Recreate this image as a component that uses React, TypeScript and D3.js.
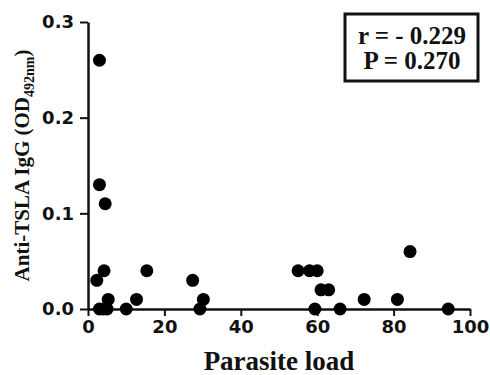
import * as d3 from "d3";
import { useEffect, useRef } from "react";

// Parasite load (x) vs anti-TSLA IgG OD (y)
const parasiteLoad = [
  3, 3, 4.5, 4.2, 2.3, 5.3, 3, 4, 5, 10, 12.7, 15.4, 27.4, 30.2, 29.3, 55, 58,
  60, 61, 63, 59.4, 66, 72.3, 81, 84.3, 94.3,
];
const igg = [
  0.26, 0.13, 0.11, 0.04, 0.03, 0.01, 0, 0, 0, 0, 0.01, 0.04, 0.03, 0.01, 0,
  0.04, 0.04, 0.04, 0.02, 0.02, 0, 0, 0.01, 0.01, 0.06, 0,
];
const xTicks = [0, 20, 40, 60, 80, 100];
const yTicks = [0, 0.1, 0.2, 0.3];
const statLines = ["r = - 0.229", "P = 0.270"];

const INK = "#111";
const SANS = "'DejaVu Sans', Arial, sans-serif";
const SERIF = "'Liberation Serif', 'Times New Roman', serif";

function Scatter({ width = 490, height = 375 }) {
  const svgRef = useRef<SVGSVGElement>(null);

  useEffect(() => {
    if (!svgRef.current) return;
    const svg = d3.select(svgRef.current);
    svg.selectAll("*").remove();

    const m = { top: 22, right: 20, bottom: 66, left: 88 };
    const x = d3.scaleLinear().domain([0, 100]).range([m.left, width - m.right]);
    const y = d3.scaleLinear().domain([0, 0.3]).range([height - m.bottom, m.top]);

    const data = parasiteLoad.map((v, i) => ({ x: v, y: igg[i] }));

    // x axis
    const gx = svg
      .append("g")
      .attr("transform", `translate(0,${y(0)})`)
      .call(d3.axisBottom(x).tickValues(xTicks).tickSize(7).tickPadding(4).tickSizeOuter(0));
    gx.select("path.domain").attr("stroke", INK).attr("stroke-width", 2.5);
    gx.selectAll("line").attr("stroke", INK).attr("stroke-width", 2);
    gx.selectAll("text")
      .attr("font-family", SANS)
      .attr("font-weight", "bold")
      .attr("font-size", 18)
      .attr("fill", INK);

    // y axis
    const gy = svg
      .append("g")
      .attr("transform", `translate(${x(0)},0)`)
      .call(
        d3
          .axisLeft(y)
          .tickValues(yTicks)
          .tickFormat(d3.format(".1f"))
          .tickSize(8)
          .tickPadding(6)
          .tickSizeOuter(0),
      );
    gy.select("path.domain").attr("stroke", INK).attr("stroke-width", 2.5);
    gy.selectAll("line").attr("stroke", INK).attr("stroke-width", 2);
    gy.selectAll("text")
      .attr("font-family", SANS)
      .attr("font-weight", "bold")
      .attr("font-size", 18)
      .attr("fill", INK);

    // points
    svg
      .append("g")
      .selectAll("circle")
      .data(data)
      .enter()
      .append("circle")
      .attr("cx", (d) => x(d.x))
      .attr("cy", (d) => y(d.y))
      .attr("r", 6.5)
      .attr("fill", "#000");

    // axis titles
    svg
      .append("text")
      .attr("x", 279)
      .attr("y", 370)
      .attr("text-anchor", "middle")
      .attr("font-family", SERIF)
      .attr("font-weight", "bold")
      .attr("font-size", 27)
      .attr("fill", INK)
      .text("Parasite load");

    const yl = svg
      .append("text")
      .attr("transform", `translate(29,${(y(0) + y(0.3)) / 2}) rotate(-90)`)
      .attr("text-anchor", "middle")
      .attr("font-family", SERIF)
      .attr("font-weight", "bold")
      .attr("font-size", 21)
      .attr("fill", INK);
    yl.append("tspan").text("Anti-TSLA IgG (OD");
    yl.append("tspan").attr("font-size", 14).attr("dy", 5).text("492nm");
    yl.append("tspan").attr("dy", -5).text(")");

    // stats box
    svg
      .append("rect")
      .attr("x", 345)
      .attr("y", 14)
      .attr("width", 133)
      .attr("height", 67)
      .attr("fill", "#fff")
      .attr("stroke", INK)
      .attr("stroke-width", 3);
    svg
      .append("g")
      .selectAll("text")
      .data(statLines)
      .enter()
      .append("text")
      .attr("x", 412)
      .attr("y", (_, i) => 44 + i * 25)
      .attr("text-anchor", "middle")
      .attr("font-family", SERIF)
      .attr("font-weight", "bold")
      .attr("font-size", 25)
      .attr("fill", INK)
      .text((d) => d);
  }, [width, height]);

  return (
    <svg
      ref={svgRef}
      width={width}
      height={height}
      style={{ position: "absolute", left: 0, top: 0, background: "#fff" }}
    />
  );
}

export default function App() {
  return <Scatter />;
}
